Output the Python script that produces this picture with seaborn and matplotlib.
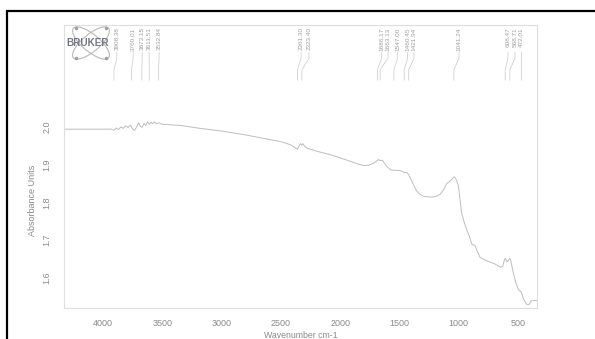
import matplotlib
matplotlib.use("Agg")
import matplotlib.pyplot as plt
import seaborn as sns
import pandas as pd
from matplotlib.patches import Ellipse
from matplotlib.lines import Line2D

# ---- data ----
wavenumber = [4330, 3930, 3910, 3890, 3870, 3850, 3830, 3810, 3790, 3770, 3750, 3735, 3715,
              3700, 3685, 3670, 3655, 3640, 3625, 3610, 3595, 3580, 3565, 3550, 3532, 3500,
              3400, 3350, 3200, 3000, 2800, 2600, 2500, 2420, 2380, 2362, 2345, 2335, 2325,
              2315, 2300, 2280, 2200, 2086, 1950, 1850, 1805, 1760, 1720, 1690, 1675, 1663,
              1645, 1630, 1608, 1580, 1560, 1547, 1520, 1496, 1470, 1460, 1440, 1422, 1400,
              1380, 1355, 1330, 1299, 1250, 1215, 1180, 1158, 1130, 1102, 1075, 1055, 1041,
              1030, 1015, 1004, 990, 976, 955, 933, 910, 891, 880, 863, 845, 821, 780, 700,
              650, 630, 615, 608, 595, 585, 570, 560, 540, 520, 498, 485, 472, 455, 428, 410,
              400, 390, 340]
absorbance = [1.993, 1.993, 1.990, 1.996, 1.992, 1.999, 1.995, 2.002, 1.997, 2.004, 1.993, 1.990, 2.000,
              2.010, 2.000, 1.998, 2.008, 2.003, 2.012, 2.006, 2.011, 2.008, 2.012, 2.007, 2.010, 2.006,
              2.004, 2.003, 1.996, 1.988, 1.978, 1.966, 1.960, 1.952, 1.944, 1.940, 1.950, 1.955, 1.950,
              1.955, 1.948, 1.943, 1.935, 1.926, 1.912, 1.901, 1.897, 1.898, 1.903, 1.910, 1.913, 1.910,
              1.911, 1.905, 1.895, 1.887, 1.884, 1.885, 1.884, 1.884, 1.881, 1.878, 1.879, 1.873, 1.858,
              1.845, 1.830, 1.822, 1.816, 1.814, 1.814, 1.817, 1.821, 1.832, 1.849, 1.856, 1.862, 1.867,
              1.865, 1.855, 1.845, 1.810, 1.772, 1.748, 1.728, 1.710, 1.690, 1.688, 1.686, 1.672, 1.655, 1.648, 1.638,
              1.629, 1.630, 1.648, 1.652, 1.643, 1.645, 1.652, 1.645, 1.614, 1.590, 1.570, 1.566, 1.563, 1.545, 1.531, 1.530,
              1.533, 1.540, 1.541]

peak_wn = [3908.38, 3760.01, 3673.15, 3611.51, 3532.84, 2361.30, 2323.40, 1686.17, 1663.13,
           1547.00, 1460.45, 1421.94, 1041.24, 608.47, 568.71, 472.01]
peak_labels = ["3908.38", "3760.01", "3673.15", "3611.51", "3532.84", "2361.30", "2323.40",
               "1686.17", "1663.13", "1547.00", "1460.45", "1421.94", "1041.24", "608.47",
               "568.71", "472.01"]
# label placement (layout)
label_x = [3884, 3747, 3671, 3612, 3528, 2330, 2263, 1650, 1597, 1516, 1431, 1378, 998, 585, 526, 470]

x_ticks = [4000, 3500, 3000, 2500, 2000, 1500, 1000, 500]
y_ticks = [1.6, 1.7, 1.8, 1.9, 2.0]

df = pd.DataFrame({"Wavenumber": wavenumber, "Absorbance": absorbance})

sns.set_style("white")
plt.rcParams["font.family"] = ["Liberation Sans", "DejaVu Sans"]

W, H = 595, 339
fig = plt.figure(figsize=(W / 100, H / 100), dpi=100)
ax = fig.add_axes([64 / W, 1 - 308 / H, (537 - 64) / W, (308 - 25) / H])

sns.lineplot(data=df, x="Wavenumber", y="Absorbance", sort=False, ax=ax,
             color="#bdbdbd", linewidth=0.7)

ax.set_xlim(4330, 340)
ax.set_ylim(1.521, 2.268)
ax.set_xticks(x_ticks)
ax.set_xticklabels([str(t) for t in x_ticks])
ax.set_yticks(y_ticks)
ax.set_yticklabels([f"{t:.1f}" for t in y_ticks], rotation=90, va="center")
ax.tick_params(axis="both", colors="#dddddd", labelcolor="#8a8a8a", labelsize=6.5,
               length=2, width=0.6, direction="out")
ax.tick_params(axis="x", pad=6)
ax.tick_params(axis="y", pad=7)
for s in ax.spines.values():
    s.set_color("#dedede")
    s.set_linewidth(0.8)

ax.set_xlabel("Wavenumber cm-1", fontsize=6.3, color="#8a8a8a")
ax.set_ylabel("Absorbance Units", fontsize=6.5, color="#8a8a8a")
ax.xaxis.set_label_coords(0.5, -0.083)
ax.yaxis.set_label_coords(-0.057, 0.38)

# peak labels with leader lines
for pw, lx, lab in zip(peak_wn, label_x, peak_labels):
    ax.text(lx, 2.262, lab, rotation=90, ha="center", va="top", fontsize=4.6,
            color="#a0a0a0")
    ax.plot([lx, lx, pw, pw], [2.196, 2.180, 2.150, 2.122], color="#c8c8c8",
            linewidth=0.5)

# Bruker logo
lax = fig.add_axes([64 / W, 1 - 64 / H, 50 / W, 42 / H])
lax.set_xlim(0, 50)
lax.set_ylim(0, 42)
lax.axis("off")
for ang in (40, -40):
    lax.add_patch(Ellipse((27, 21), 46, 17, angle=ang, fill=False,
                          edgecolor="#b8b8b8", linewidth=0.8))
for (px, py) in [(12, 36), (42, 36), (12, 6), (42, 6)]:
    lax.plot(px, py, "o", color="#a0a0a0", markersize=1.5)
lax.text(24, 21, "BRUKER", ha="center", va="center", fontsize=7.2,
         fontweight="bold", color="#737886")

# scan frame
fig.add_artist(Line2D([7 / W, 7 / W], [0, 1 - 11 / H], transform=fig.transFigure,
                      color="black", linewidth=1.6))
fig.add_artist(Line2D([7 / W, 1], [1 - 11 / H, 1 - 11 / H], transform=fig.transFigure,
                      color="black", linewidth=1.6))

fig.savefig("out.png", dpi=100)
